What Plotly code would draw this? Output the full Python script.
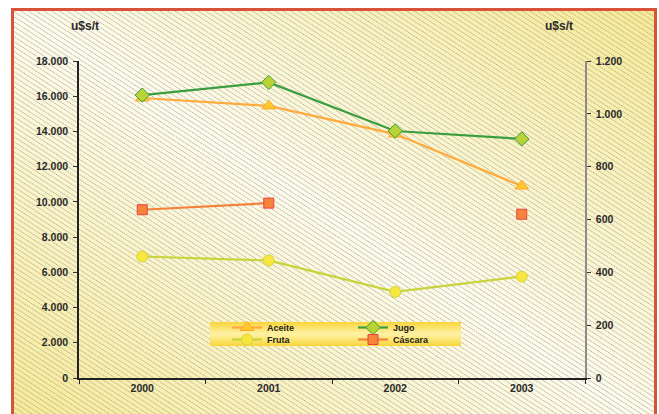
import base64
import plotly.graph_objects as go

years = ["2000", "2001", "2002", "2003"]
aceite = [15900, 15450, 13850, 10900]      # left axis, u$s/t
jugo = [1071, 1119, 935, 905]               # right axis, u$s/t
fruta = [460, 445, 326, 384]                # right axis
cascara = [637, 662, None, 620]             # right axis (no 2002 value)

left_ticks = [0, 2000, 4000, 6000, 8000, 10000, 12000, 14000, 16000, 18000]
right_ticks = [0, 200, 400, 600, 800, 1000, 1200]

W, H = 659, 414
L, R, T, B = 79, 659 - 585, 61, 414 - 378
PW, PH = W - L - R, H - T - B


def px(xp):  # page x -> paper fraction
    return (xp - L) / PW


def py(yp):  # page y -> paper fraction
    return 1 - (yp - T) / PH


svg = f'''<svg xmlns="http://www.w3.org/2000/svg" width="{W}" height="{H}" viewBox="0 0 {W} {H}">
<defs>
<linearGradient id="bg" x1="0" y1="1" x2="1" y2="0">
<stop offset="0" stop-color="#F7EA92"/><stop offset="0.5" stop-color="#FDFBEE"/><stop offset="1" stop-color="#F7EA92"/>
</linearGradient>
<linearGradient id="lg" x1="0" y1="0" x2="0" y2="1">
<stop offset="0" stop-color="#F8D53A"/><stop offset="0.5" stop-color="#FFF2A6"/><stop offset="1" stop-color="#F8D53A"/>
</linearGradient>
<pattern id="h" patternUnits="userSpaceOnUse" width="40" height="4.2" patternTransform="rotate(33)">
<line x1="0" y1="2" x2="40" y2="2" stroke="#A8A492" stroke-width="0.85" stroke-dasharray="1.3,0.9"/>
</pattern>
</defs>
<rect width="{W}" height="{H}" fill="#FFFFFF"/>
<rect x="12" y="8" width="644" height="420" fill="url(#bg)"/>
<rect x="12" y="8" width="644" height="420" fill="url(#h)"/>
<rect x="210" y="322" width="251" height="24" fill="url(#lg)"/>
<rect x="12.5" y="9.5" width="643" height="420" fill="none" stroke="#D8533A" stroke-width="3"/>
</svg>'''
src = "data:image/svg+xml;base64," + base64.b64encode(svg.encode()).decode()

FONT = "Arial, Liberation Sans, sans-serif"
tickfont = dict(family=FONT, size=10.5, color="#2A2A2A", weight="bold")

fig = go.Figure()
fig.add_trace(go.Scatter(
    x=years, y=aceite, name="Aceite", yaxis="y", mode="lines+markers",
    line=dict(color="#FFAA3C", width=2.2),
    marker=dict(symbol="triangle-up", size=12, color="#FFC92E", line=dict(color="#FFA733", width=1)),
    legend="legend"))
fig.add_trace(go.Scatter(
    x=years, y=jugo, name="Jugo", yaxis="y2", mode="lines+markers",
    line=dict(color="#3A9E3E", width=2.2),
    marker=dict(symbol="diamond", size=11, color="#B9D236", line=dict(color="#3A9E3E", width=1)),
    legend="legend"))
fig.add_trace(go.Scatter(
    x=years, y=fruta, name="Fruta", yaxis="y2", mode="lines+markers",
    line=dict(color="#C9D43C", width=2.2),
    marker=dict(symbol="circle", size=11, color="#F8E640", line=dict(color="#D6D43A", width=1)),
    legend="legend2"))
fig.add_trace(go.Scatter(
    x=years, y=cascara, name="Cáscara", yaxis="y2", mode="lines+markers",
    connectgaps=False,
    line=dict(color="#F4823A", width=2.2),
    marker=dict(symbol="square", size=10, color="#F5853A", line=dict(color="#EC3F3F", width=1)),
    legend="legend2"))

legfont = dict(family=FONT, size=9, color="#222222", weight="bold")
leg_common = dict(orientation="h", entrywidth=81, entrywidthmode="pixels",
                  bgcolor="rgba(0,0,0,0)", borderwidth=0, font=legfont,
                  xanchor="left", yanchor="middle", itemwidth=30,
                  x=px(227))

fig.update_layout(
    width=W, height=H,
    margin=dict(l=L, r=R, t=T, b=B, pad=0),
    paper_bgcolor="#FFFFFF",
    plot_bgcolor="rgba(0,0,0,0)",
    separators=",.",
    showlegend=True,
    legend=dict(**leg_common, y=py(327.5)),
    legend2=dict(**leg_common, y=py(339.5)),
    xaxis=dict(type="category", categoryorder="array", categoryarray=years,
               range=[-0.5, 3.5], tickson="boundaries", ticks="outside", ticklen=4,
               tickcolor="#222222", showline=True, linecolor="#222222", linewidth=1.5,
               showgrid=False, zeroline=False, tickfont=tickfont, fixedrange=True),
    yaxis=dict(range=[0, 18000], tickvals=left_ticks, tickformat=",.0f",
               ticks="outside", ticklen=4, tickcolor="#333333",
               showline=True, linecolor="#222222", linewidth=1.5,
               showgrid=False, zeroline=False, tickfont=tickfont, ticklabelstandoff=3),
    yaxis2=dict(range=[0, 1200], tickvals=right_ticks, tickformat=",.0f",
                overlaying="y", side="right", anchor="x",
                ticks="outside", ticklen=4, tickcolor="#333333",
                showline=True, linecolor="#8C8C8C", linewidth=1.5,
                showgrid=False, zeroline=False, tickfont=tickfont, ticklabelstandoff=3),
    images=[dict(source=src, xref="paper", yref="paper",
                 x=-L / PW, y=1 + T / PH, sizex=W / PW, sizey=H / PH,
                 xanchor="left", yanchor="top", sizing="stretch", layer="below")],
    annotations=[
        dict(text="u$s/t", xref="paper", yref="paper", x=px(85), y=py(26),
             showarrow=False, xanchor="center", yanchor="middle",
             font=dict(family=FONT, size=12, color="#2A2A2A", weight="bold")),
        dict(text="u$s/t", xref="paper", yref="paper", x=px(559), y=py(26),
             showarrow=False, xanchor="center", yanchor="middle",
             font=dict(family=FONT, size=12, color="#2A2A2A", weight="bold")),
    ],
)

fig.write_html("out.html", config={"displayModeBar": False},
               post_script="document.body.style.margin='0';document.body.style.overflow='hidden';")
